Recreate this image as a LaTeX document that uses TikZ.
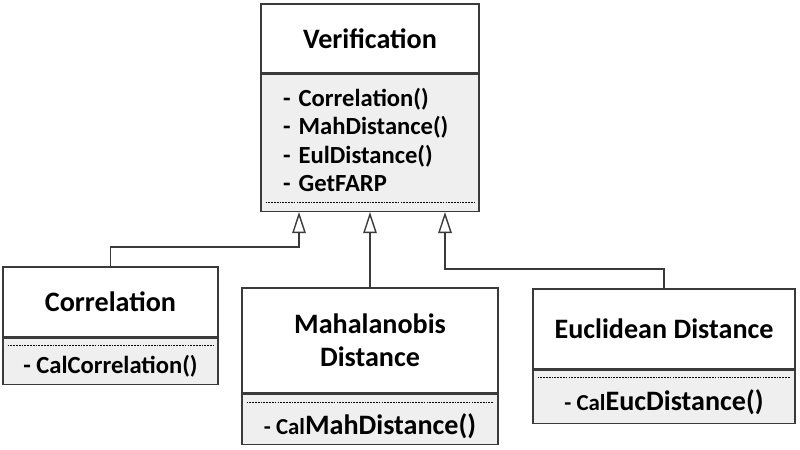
\documentclass[tikz,border=0pt]{standalone}
\usepackage{fontspec}
\setmainfont{Carlito}
\usetikzlibrary{positioning,arrows.meta}

\definecolor{umlline}{HTML}{3A3A3A}
\definecolor{umlfill}{HTML}{EFEFEF}

\tikzset{
  titlebox/.style={draw=umlline, line width=0.8pt, fill=white, inner sep=0pt,
    align=center, font=\fontsize{16}{19}\selectfont\bfseries},
  membox/.style={draw=umlline, line width=0.8pt, fill=umlfill, inner sep=0pt,
    align=center, font=\fontsize{14}{16}\selectfont\bfseries},
  dashsep/.style={dashed, dash pattern=on 1pt off 0.6pt, line width=0.5pt, black},
  inherit/.style={draw=umlline, line width=0.8pt,
    -{Triangle[open, length=0.42cm, width=0.27cm, line width=0.8pt]}}
}

\begin{document}
\begin{tikzpicture}
\useasboundingbox (0,0) rectangle (16,-8.98);

% parent class
\node[titlebox, minimum width=4.36cm, minimum height=1.38cm] (ver) at (7.4,-0.77) {Verification};
\node[membox, below=0pt of ver, minimum height=2.74cm, text width=3.48cm,
  inner xsep=0.44cm, align=left] (verm)
  {- Correlation()\\ - MahDistance()\\ - EulDistance()\\ - GetFARP\rule[-0.12cm]{0pt}{0pt}};
\draw[dashsep] ([xshift=3pt,yshift=0.2cm]verm.south west) -- ([xshift=-3pt,yshift=0.2cm]verm.south east);

% child classes
\node[titlebox, minimum width=4.3cm, minimum height=1.4cm] (cor) at (2.21,-6.04) {Correlation};
\node[membox, below=0pt of cor, minimum width=4.3cm, minimum height=0.92cm] (corm)
  {\rule{0pt}{0.57cm}- CalCorrelation()};
\draw[dashsep] ([xshift=3pt,yshift=-0.16cm]corm.north west) -- ([xshift=-3pt,yshift=-0.16cm]corm.north east);

\node[titlebox, minimum width=5.12cm, minimum height=2.1cm] (mah) at (7.4,-6.81) {Mahalanobis\\Distance};
\node[membox, below=0pt of mah, minimum width=5.12cm, minimum height=1.0cm] (mahm)
  {\rule{0pt}{0.7cm}{\fontsize{13}{15}\selectfont - Cal}{\fontsize{16}{18}\selectfont MahDistance()}};
\draw[dashsep] ([xshift=3pt,yshift=-0.18cm]mahm.north west) -- ([xshift=-3pt,yshift=-0.18cm]mahm.north east);

\node[titlebox, minimum width=5.24cm, minimum height=1.6cm] (euc) at (13.28,-6.58) {Euclidean Distance};
\node[membox, below=0pt of euc, minimum width=5.24cm, minimum height=1.06cm] (eucm)
  {\rule{0pt}{0.62cm}{\fontsize{13}{15}\selectfont - Cal}{\fontsize{16}{18}\selectfont EucDistance()}};
\draw[dashsep] ([xshift=3pt,yshift=-0.16cm]eucm.north west) -- ([xshift=-3pt,yshift=-0.16cm]eucm.north east);

% inheritance
\coordinate (h1) at ([xshift=-1.42cm]verm.south);
\coordinate (h2) at (verm.south);
\coordinate (h3) at ([xshift=1.5cm]verm.south);
\coordinate (j1) at ([yshift=-0.7cm]h1);
\coordinate (j3) at ([yshift=-1.14cm]h3);

\draw[inherit] (cor.north) |- (j1) -- (h1);
\draw[inherit] (mah.north) -- (h2);
\draw[inherit] (euc.north) |- (j3) -- (h3);

\end{tikzpicture}
\end{document}
